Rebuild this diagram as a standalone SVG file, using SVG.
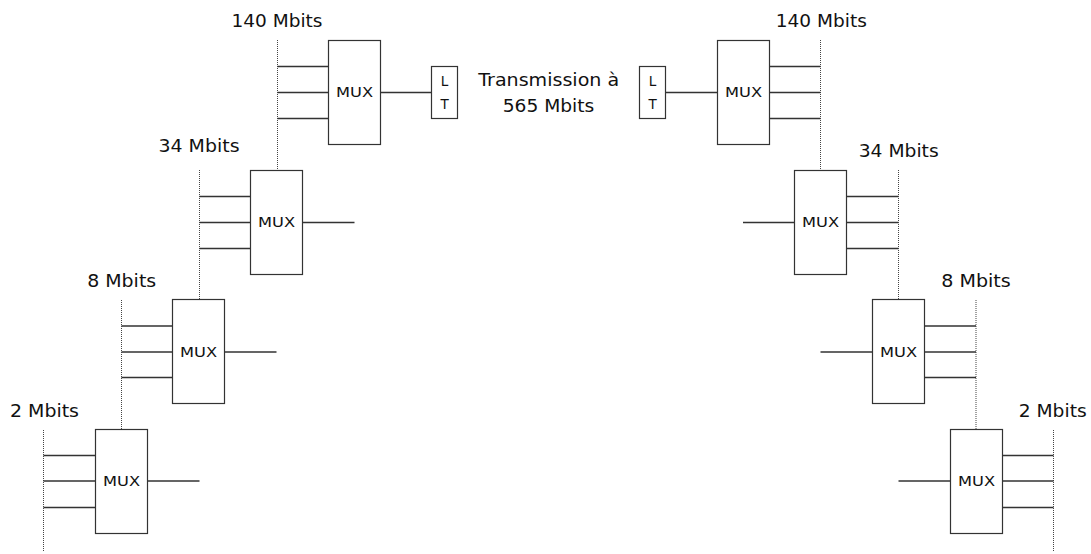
<svg xmlns="http://www.w3.org/2000/svg" width="1091" height="554" viewBox="0 0 1091 554">
<style>
.box{fill:#fff;stroke:#333;stroke-width:1.2}
.ln{stroke:#333;stroke-width:1.3;fill:none}
.bus{stroke:#444;stroke-width:1;stroke-dasharray:1 1;fill:none}
.lbl{font-family:"DejaVu Sans",Verdana,sans-serif;font-size:17px;fill:#111;text-anchor:middle}
.mux{font-family:"DejaVu Sans",Verdana,sans-serif;font-size:14px;fill:#111;text-anchor:middle}
.lt{font-family:"DejaVu Sans",Verdana,sans-serif;font-size:13.5px;fill:#111;text-anchor:middle}
</style>
<rect width="1091" height="554" fill="#fff"/>
<g id="connectors">
  <line class="bus" x1="277.5" y1="40" x2="277.5" y2="170"/>
  <line class="bus" x1="199.5" y1="170" x2="199.5" y2="300"/>
  <line class="bus" x1="121.5" y1="300" x2="121.5" y2="430"/>
  <line class="bus" x1="43.5" y1="430" x2="43.5" y2="551"/>
  <line class="bus" x1="820.5" y1="40" x2="820.5" y2="170"/>
  <line class="bus" x1="898.5" y1="170" x2="898.5" y2="300"/>
  <line class="bus" x1="976" y1="300" x2="976" y2="430"/>
  <line class="bus" x1="1053.5" y1="430" x2="1053.5" y2="551"/>
  <path class="ln" d="M277.5 66.5H328.5M277.5 92.5H328.5M277.5 118.5H328.5M380.5 92.5H431.5"/>
  <path class="ln" d="M199.5 196.5H250.5M199.5 222.5H250.5M199.5 248.5H250.5M302.5 222.5H354.5"/>
  <path class="ln" d="M121.5 326H172.5M121.5 352H172.5M121.5 377.5H172.5M224.5 352H276.5"/>
  <path class="ln" d="M43.5 455.5H95.5M43.5 481H95.5M43.5 507.5H95.5M147.5 481H199.5"/>
  <path class="ln" d="M769.5 66.5H820.5M769.5 92.5H820.5M769.5 118.5H820.5M665.5 92.5H717.5"/>
  <path class="ln" d="M846.5 196.5H898.5M846.5 222.5H898.5M846.5 248.5H898.5M743 222.5H794.5"/>
  <path class="ln" d="M924.5 326H976M924.5 352H976M924.5 377.5H976M820.5 352H872.5"/>
  <path class="ln" d="M1002.5 455.5H1053.5M1002.5 481H1053.5M1002.5 507.5H1053.5M898.5 481H950.5"/>
</g>
<g id="mux-140-left"><rect class="box" x="328.5" y="40.5" width="52" height="104"/><text class="mux" x="354.5" y="97" textLength="37" lengthAdjust="spacingAndGlyphs">MUX</text></g>
<g id="mux-34-left"><rect class="box" x="250.5" y="170.5" width="52" height="104"/><text class="mux" x="276.5" y="227" textLength="37" lengthAdjust="spacingAndGlyphs">MUX</text></g>
<g id="mux-8-left"><rect class="box" x="172.5" y="299.5" width="52" height="104"/><text class="mux" x="198.5" y="356.5" textLength="37" lengthAdjust="spacingAndGlyphs">MUX</text></g>
<g id="mux-2-left"><rect class="box" x="95.5" y="429.5" width="52" height="104"/><text class="mux" x="121.5" y="486" textLength="37" lengthAdjust="spacingAndGlyphs">MUX</text></g>
<g id="mux-140-right"><rect class="box" x="717.5" y="40.5" width="52" height="104"/><text class="mux" x="743.5" y="97" textLength="37" lengthAdjust="spacingAndGlyphs">MUX</text></g>
<g id="mux-34-right"><rect class="box" x="794.5" y="170.5" width="52" height="104"/><text class="mux" x="820.5" y="227" textLength="37" lengthAdjust="spacingAndGlyphs">MUX</text></g>
<g id="mux-8-right"><rect class="box" x="872.5" y="299.5" width="52" height="104"/><text class="mux" x="898.5" y="356.5" textLength="37" lengthAdjust="spacingAndGlyphs">MUX</text></g>
<g id="mux-2-right"><rect class="box" x="950.5" y="429.5" width="52" height="104"/><text class="mux" x="976.5" y="486" textLength="37" lengthAdjust="spacingAndGlyphs">MUX</text></g>
<g id="lt-left"><rect class="box" x="431.5" y="66.5" width="26" height="52"/><text class="lt" x="444.5" y="85.5">L</text><text class="lt" x="444.5" y="108.5">T</text></g>
<g id="lt-right"><rect class="box" x="639.5" y="66.5" width="26" height="52"/><text class="lt" x="652.5" y="85.5">L</text><text class="lt" x="652.5" y="108.5">T</text></g>
<g id="labels">
  <text class="lbl" x="277" y="27.3" textLength="91" lengthAdjust="spacingAndGlyphs">140 Mbits</text>
  <text class="lbl" x="199" y="151.7" textLength="81" lengthAdjust="spacingAndGlyphs">34 Mbits</text>
  <text class="lbl" x="121.7" y="286.7" textLength="69" lengthAdjust="spacingAndGlyphs">8 Mbits</text>
  <text class="lbl" x="44.5" y="416.7" textLength="69" lengthAdjust="spacingAndGlyphs">2 Mbits</text>
  <text class="lbl" x="821.3" y="27.3" textLength="91" lengthAdjust="spacingAndGlyphs">140 Mbits</text>
  <text class="lbl" x="898.7" y="157.3" textLength="80" lengthAdjust="spacingAndGlyphs">34 Mbits</text>
  <text class="lbl" x="976" y="286.7" textLength="69.5" lengthAdjust="spacingAndGlyphs">8 Mbits</text>
  <text class="lbl" x="1052.7" y="416.7" textLength="68" lengthAdjust="spacingAndGlyphs">2 Mbits</text>
  <text class="lbl" x="548.7" y="86" textLength="141" lengthAdjust="spacingAndGlyphs">Transmission à</text>
  <text class="lbl" x="548.5" y="112" textLength="91.7" lengthAdjust="spacingAndGlyphs">565 Mbits</text>
</g>
</svg>
